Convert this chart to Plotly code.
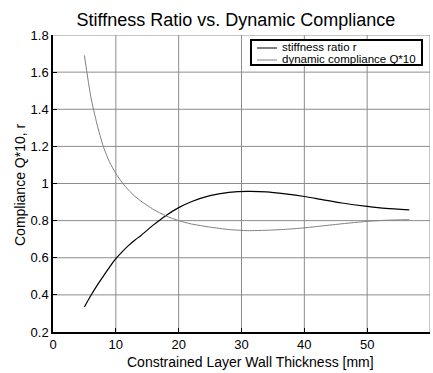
import plotly.graph_objects as go

# ---- data ----
thickness_mm = [5, 6, 7, 8, 9, 10, 11, 12, 13, 14, 16, 18, 20, 22, 25, 28, 31, 34, 37, 40, 43, 46, 50, 53, 56.7]
stiffness_r = [0.335, 0.395, 0.45, 0.50, 0.55, 0.595, 0.632, 0.665, 0.694, 0.72, 0.777, 0.828, 0.87, 0.902, 0.935,
               0.952, 0.958, 0.955, 0.944, 0.93, 0.912, 0.895, 0.877, 0.866, 0.858]
compliance_q10 = [1.69, 1.47, 1.32, 1.20, 1.115, 1.055, 1.005, 0.965, 0.932, 0.905, 0.86, 0.825, 0.80, 0.782, 0.765,
                  0.752, 0.746, 0.748, 0.753, 0.761, 0.772, 0.783, 0.796, 0.802, 0.805]
x_ticks = [0, 10, 20, 30, 40, 50, 60]
y_ticks = [0.2, 0.4, 0.6, 0.8, 1.0, 1.2, 1.4, 1.6, 1.8]
y_tick_text = ["0.2", "0.4", "0.6", "0.8", "1", "1.2", "1.4", "1.6", "1.8"]
series_names = ["stiffness ratio r", "dynamic compliance Q*10"]

FONT = "Liberation Sans, Arial, Helvetica, sans-serif"
W, H = 433, 373
L, R, T, B = 53, 3, 35, 41
PW, PH = W - L - R, H - T - B
GRID = "#8c8c8c"


def px(xp):
    return (xp - L) / PW


def py(yp):
    return (H - B - yp) / PH


fig = go.Figure()
fig.add_trace(go.Scatter(x=thickness_mm, y=stiffness_r, mode="lines", name=series_names[0],
                         line=dict(color="black", width=1.2, shape="spline", smoothing=0.6), showlegend=False))
fig.add_trace(go.Scatter(x=thickness_mm, y=compliance_q10, mode="lines", name=series_names[1],
                         line=dict(color="#808080", width=1, shape="spline", smoothing=0.6), showlegend=False))

shapes = []
# grid lines at the tick positions (drawn below the data)
for xv in x_ticks[1:]:
    shapes.append(dict(type="line", xref="x", yref="paper", x0=xv, x1=xv, y0=0, y1=1, layer="below",
                       line=dict(color=GRID, width=1)))
for yv in y_ticks[1:]:
    shapes.append(dict(type="line", xref="paper", yref="y", x0=0, x1=1, y0=yv, y1=yv, layer="below",
                       line=dict(color=GRID, width=1)))
# legend box
shapes.append(dict(type="rect", xref="paper", yref="paper", x0=px(251), x1=px(422), y0=py(65), y1=py(40),
                   line=dict(color="black", width=2), fillcolor="white"))
legend_rows_y = [47, 59]
legend_colors = ["black", "#808080"]
annotations = []
for name, col, yy in zip(series_names, legend_colors, legend_rows_y):
    shapes.append(dict(type="line", xref="paper", yref="paper", x0=px(257), x1=px(277), y0=py(yy + 1), y1=py(yy + 1),
                       line=dict(color=col, width=1)))
    annotations.append(dict(xref="paper", yref="paper", x=px(280), y=py(yy), text=name, showarrow=False,
                            xanchor="left", yanchor="middle", font=dict(family=FONT, size=11.5, color="black")))

annotations.append(dict(xref="paper", yref="paper", x=px(250), y=py(362),
                        text="Constrained Layer Wall Thickness [mm]", showarrow=False,
                        xanchor="center", yanchor="middle", font=dict(family=FONT, size=14, color="black")))
annotations.append(dict(xref="paper", yref="paper", x=px(20), y=py(185), text="Compliance Q*10, r",
                        showarrow=False, textangle=-90, xanchor="center", yanchor="middle",
                        font=dict(family=FONT, size=14, color="black")))

fig.update_layout(
    template="none",
    width=W, height=H,
    margin=dict(l=L, r=R, t=T, b=B, pad=0),
    paper_bgcolor="white", plot_bgcolor="white",
    title=dict(text="Stiffness Ratio vs. Dynamic Compliance", x=236 / W, xanchor="center",
               y=1 - 20 / H, yanchor="middle", font=dict(family=FONT, size=18, color="black")),
    shapes=shapes, annotations=annotations,
    showlegend=False,
)
fig.update_xaxes(range=[0, 60], tickmode="array", tickvals=x_ticks, ticktext=[str(v) for v in x_ticks],
                 showgrid=False, zeroline=False,
                 showline=True, linecolor="black", linewidth=1.5, ticks="inside", ticklen=4,
                 tickcolor="black", tickfont=dict(family=FONT, size=13, color="black"))
fig.update_yaxes(range=[0.2, 1.8], tickmode="array", tickvals=y_ticks, ticktext=y_tick_text,
                 showgrid=False, zeroline=False,
                 showline=True, linecolor="black", linewidth=1.5, ticks="inside", ticklen=4,
                 tickcolor="black", tickfont=dict(family=FONT, size=13, color="black"))

fig.write_html("out.html")
